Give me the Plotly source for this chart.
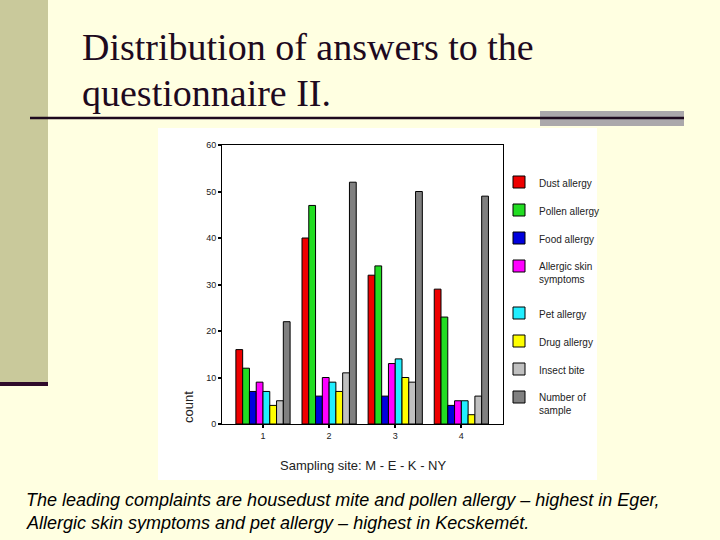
import plotly.graph_objects as go

# ---- data ----
sites = [1, 2, 3, 4]
series_names = ["Dust allergy", "Pollen allergy", "Food allergy", "Allergic skin<br>symptoms",
                "Pet allergy", "Drug allergy", "Insect bite", "Number of<br>sample"]
dust = [16, 40, 32, 29]
pollen = [12, 47, 34, 23]
food = [7, 6, 6, 4]
skin = [9, 10, 13, 5]
pet = [7, 9, 14, 5]
drug = [4, 7, 10, 2]
insect = [5, 11, 9, 6]
sample = [22, 52, 50, 49]
values = [dust, pollen, food, skin, pet, drug, insect, sample]
colors = ["#EE0000", "#22DD22", "#0000DD", "#FF00FF", "#22EEFF", "#FFFF00", "#C0C0C0", "#808080"]
ytick_vals = [0, 10, 20, 30, 40, 50, 60]

# ---- geometry helpers (pixel -> paper) ----
W, H = 720, 540
L, R, T, B = 222, 503, 145, 424


def px(x):
    return (x - L) / (R - L)


def py(y):
    return (B - y) / (B - T)


fig = go.Figure()
for i, (name, vals, col) in enumerate(zip(series_names, values, colors)):
    fig.add_trace(go.Bar(
        x=sites, y=vals, name=name, legendgroup="g%d" % i,
        marker=dict(color=col, line=dict(color="black", width=1)),
        legend="legend" if i < 4 else "legend2",
    ))

shapes = [
    dict(type="rect", xref="paper", yref="paper", x0=px(158), x1=px(597), y0=py(480), y1=py(128),
         fillcolor="white", line=dict(width=0), layer="below"),
    dict(type="rect", xref="paper", yref="paper", x0=px(0), x1=px(48), y0=py(383), y1=py(0),
         fillcolor="#C9C99B", line=dict(width=0), layer="below"),
    dict(type="rect", xref="paper", yref="paper", x0=px(0), x1=px(48), y0=py(386), y1=py(382),
         fillcolor="#2E0A2A", line=dict(width=0), layer="below"),
    dict(type="rect", xref="paper", yref="paper", x0=px(540), x1=px(684), y0=py(126), y1=py(111),
         fillcolor="#ABA8AB", line=dict(width=0), layer="below"),
    dict(type="line", xref="paper", yref="paper", x0=px(30), x1=px(684), y0=py(118), y1=py(118),
         line=dict(color="#1E0A1E", width=2.5), layer="below"),
]

serif = "Liberation Serif, Times New Roman, serif"
sans = "Arial, Liberation Sans, sans-serif"
annotations = [
    dict(text="Distribution of answers to the", x=px(80), y=py(47), xref="paper", yref="paper",
         xanchor="left", yanchor="middle", showarrow=False,
         font=dict(family=serif, size=38, color="#1E0A1E")),
    dict(text="questionnaire II.", x=px(80), y=py(93), xref="paper", yref="paper",
         xanchor="left", yanchor="middle", showarrow=False,
         font=dict(family=serif, size=38, color="#1E0A1E")),
    dict(text="The leading complaints are housedust mite and pollen allergy – highest in Eger,",
         x=px(24), y=py(500), xref="paper", yref="paper", xanchor="left", yanchor="middle",
         showarrow=False, font=dict(family=sans, size=18, color="black", style="italic")),
    dict(text="Allergic skin symptoms and pet allergy – highest in Kecskemét.",
         x=px(24), y=py(523), xref="paper", yref="paper", xanchor="left", yanchor="middle",
         showarrow=False, font=dict(family=sans, size=18, color="black", style="italic")),
    dict(text="Sampling site: M - E - K - NY", x=px(363), y=py(465), xref="paper", yref="paper",
         xanchor="center", yanchor="middle", showarrow=False,
         font=dict(family=sans, size=13, color="#222222")),
    dict(text="count", x=px(188), y=py(407), xref="paper", yref="paper", textangle=-90,
         xanchor="center", yanchor="middle", showarrow=False,
         font=dict(family=sans, size=13, color="#222222")),
]

legend_common = dict(
    xref="container", yref="container", xanchor="left", yanchor="top",
    bgcolor="rgba(0,0,0,0)", borderwidth=0, tracegroupgap=9, valign="top",
    font=dict(family=sans, size=10, color="#222222"), itemclick=False, itemdoubleclick=False,
)

fig.update_layout(
    width=W, height=H,
    margin=dict(l=L, r=W - R, t=T, b=H - B, autoexpand=False),
    paper_bgcolor="#FFFFE1", plot_bgcolor="white",
    barmode="group", bargap=0.18, bargroupgap=0,
    shapes=shapes, annotations=annotations,
    legend=dict(x=499 / W, y=1 - 169 / H, **legend_common),
    legend2=dict(x=499 / W, y=1 - 300 / H, **legend_common),
    xaxis=dict(range=[0.38, 4.63], tickvals=sites, ticks="outside", ticklen=3, tickwidth=2,
               tickcolor="black", showline=True, linecolor="black", linewidth=1, mirror=True,
               showgrid=False, zeroline=False, tickfont=dict(family=sans, size=9, color="#222222")),
    yaxis=dict(range=[0, 60], tickvals=ytick_vals, ticks="outside", ticklen=3, tickwidth=2,
               tickcolor="black", showline=True, linecolor="black", linewidth=1, mirror=True,
               showgrid=False, zeroline=False, tickfont=dict(family=sans, size=9, color="#222222")),
    showlegend=True,
)

fig.write_html(
    "out.html",
    config={"displayModeBar": False},
    post_script="document.body.style.margin='0px';document.body.style.background='#FFFFE1';",
)
